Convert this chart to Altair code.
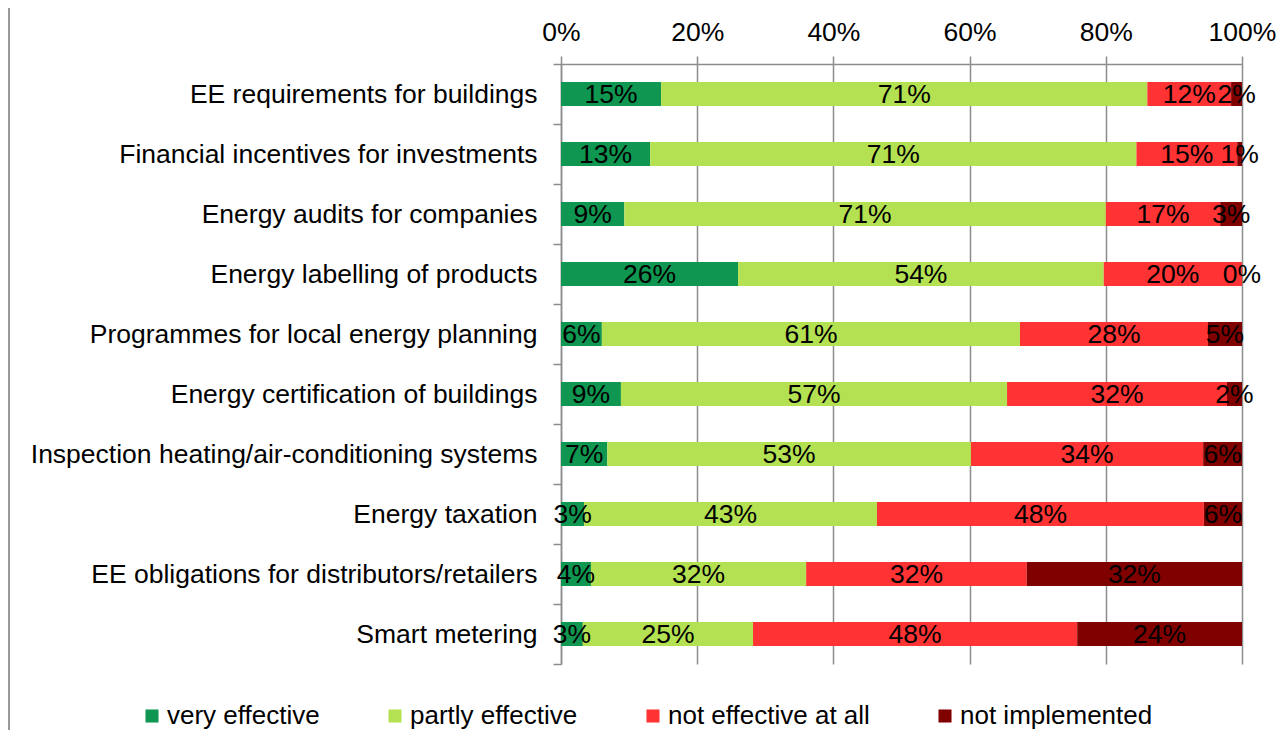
import altair as alt
import pandas as pd

categories = [
    "EE requirements for buildings",
    "Financial incentives for investments",
    "Energy audits for companies",
    "Energy labelling of products",
    "Programmes for local energy planning",
    "Energy certification of buildings",
    "Inspection heating/air-conditioning systems",
    "Energy taxation",
    "EE obligations for distributors/retailers",
    "Smart metering",
]
series = ["very effective", "partly effective", "not effective at all", "not implemented"]
colors = ["#0F9650", "#B4E152", "#FF3333", "#800000"]

very_effective = [14.7, 13.1, 9.3, 26.0, 6.0, 8.8, 6.8, 3.4, 4.4, 3.2]
partly_effective = [71.4, 71.4, 70.7, 53.7, 61.4, 56.7, 53.4, 43.0, 31.6, 25.0]
not_effective = [12.3, 14.8, 16.8, 20.3, 27.6, 32.3, 34.1, 48.0, 32.4, 47.6]
not_implemented = [1.6, 0.7, 3.2, 0.0, 5.0, 2.2, 5.7, 5.6, 31.6, 24.2]

tick_values = [0, 20, 40, 60, 80, 100]

rows = []
for si, (s, vals) in enumerate(zip(series, [very_effective, partly_effective, not_effective, not_implemented])):
    for c, v in zip(categories, vals):
        rows.append({"category": c, "series": s, "sidx": si, "value": v})
df = pd.DataFrame(rows)

FONT = "Liberation Sans"
GRAY = "#8c8c8c"
FS = 26.5

base = (
    alt.Chart(df)
    .transform_stack(
        stack="value",
        as_=["x0", "x1"],
        groupby=["category"],
        sort=[alt.SortField("sidx", order="ascending")],
    )
    .transform_calculate(
        mid="(datum.x0 + datum.x1) / 2",
        label="format(datum.value / 100, '.0%')",
    )
)

y_enc = alt.Y(
    "category:N",
    sort=categories,
    scale=alt.Scale(paddingInner=0, paddingOuter=0),
    axis=alt.Axis(
        title=None,
        labelFontSize=FS,
        labelColor="black",
        labelFont=FONT,
        labelLimit=700,
        tickBand="extent",
        tickSize=8,
        tickColor=GRAY,
        tickWidth=1.5,
        domainColor=GRAY,
        domainWidth=1.5,
        labelPadding=16,
        grid=False,
    ),
)

bars = base.mark_bar(height=alt.RelativeBandSize(0.4)).encode(
    x=alt.X(
        "x0:Q",
        scale=alt.Scale(domain=[0, 100], nice=False),
        axis=alt.Axis(
            orient="top",
            values=tick_values,
            labelExpr="datum.value + '%'",
            title=None,
            labelFontSize=FS,
            labelColor="black",
            labelFont=FONT,
            labelFlush=False,
            labelOverlap=False,
            tickSize=8,
            tickColor=GRAY,
            tickWidth=1.5,
            domainColor=GRAY,
            domainWidth=1.5,
            grid=True,
            gridColor=GRAY,
            gridWidth=1.5,
            labelPadding=10,
        ),
    ),
    x2="x1:Q",
    y=y_enc,
    color=alt.Color(
        "series:N",
        scale=alt.Scale(domain=series, range=colors),
        legend=alt.Legend(
            title=None,
            orient="none",
            legendX=-422,
            legendY=639,
            direction="horizontal",
            symbolType="square",
            symbolSize=170,
            symbolStrokeWidth=0,
            labelFontSize=26,
            labelFont=FONT,
            labelColor="black",
            labelOffset=2,
            columnPadding=62,
            padding=0,
            labelLimit=400,
        ),
    ),
    order=alt.Order("sidx:Q"),
)

text = base.mark_text(font=FONT, fontSize=FS, color="black", dy=1).encode(
    x=alt.X("mid:Q"),
    y=alt.Y("category:N", sort=categories),
    text="label:N",
)

border = (
    alt.Chart(alt.Data(values=[{}]))
    .mark_rule(color="#999999", strokeWidth=2)
    .encode(x=alt.value(-552), y=alt.value(-56), y2=alt.value(666))
)

chart = (
    alt.layer(border, bars, text)
    .properties(
        width=681,
        height=600,
        autosize=alt.AutoSizeParams(type="none"),
        padding={"left": 553, "top": 56, "right": 35, "bottom": 66},
    )
    .configure(font=FONT)
    .configure_view(stroke=None)
)

chart.save("out.html", embed_options={"renderer": "svg", "actions": False})
